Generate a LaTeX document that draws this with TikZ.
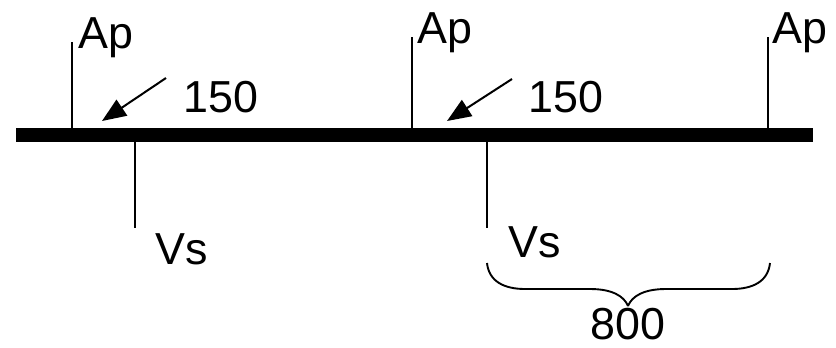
\documentclass[tikz,border=0pt]{standalone}
\usepackage{fontspec}
\setmainfont{Liberation Sans}
\usetikzlibrary{arrows.meta}
\begin{document}
\begin{tikzpicture}[x=1bp,y=-1bp,
  lbl/.style={anchor=base west,inner sep=0pt,font=\fontsize{45}{45}\selectfont},
  tick/.style={line width=1.7bp},
  rail/.style={line width=14bp},
  pointer/.style={line width=2bp,-{Triangle[length=24bp,width=19bp]}},
  brace/.style={line width=1.9bp}]
\useasboundingbox (0,0) rectangle (836,347);

% main bar
\coordinate (barL) at (16,135);
\coordinate (barR) at (813,135);
\draw[rail] (barL) -- (barR);

% upper ticks with Ap labels
\coordinate (ap1b) at (72,128);  \coordinate (ap1t) at (72,42);
\coordinate (ap2b) at (412,128); \coordinate (ap2t) at (412,37);
\coordinate (ap3b) at (768,128); \coordinate (ap3t) at (768,37);
\draw[tick] (ap1b) -- (ap1t);
\draw[tick] (ap2b) -- (ap2t);
\draw[tick] (ap3b) -- (ap3t);
\node[lbl] (ap1) at (78,48) {Ap};
\node[lbl] (ap2) at (417,43) {Ap};
\node[lbl] (ap3) at (772,43) {Ap};

% lower ticks with Vs labels
\coordinate (vs1t) at (135,142); \coordinate (vs1b) at (135,228);
\coordinate (vs2t) at (487,142); \coordinate (vs2b) at (487,228);
\draw[tick] (vs1t) -- (vs1b);
\draw[tick] (vs2t) -- (vs2b);
\node[lbl] (vs1) at (155,264) {Vs};
\node[lbl] (vs2) at (508,257) {Vs};

% 150 pointers
\node[lbl] (n1) at (183,112) {150};
\node[lbl] (n2) at (528,112) {150};
\coordinate (p1s) at (166,78);  \coordinate (p1e) at (102,121);
\coordinate (p2s) at (512,79);  \coordinate (p2e) at (447,121);
\draw[pointer] (p1s) -- (p1e);
\draw[pointer] (p2s) -- (p2e);

% brace spanning 800
\coordinate (brL) at (487,263);
\coordinate (brR) at (770,263);
\coordinate (brM) at (628,306);
\draw[brace] (brL) .. controls (489,282) and (505,289) .. (525,289)
  -- (590,289) .. controls (612,289) and (624,296) .. (brM);
\draw[brace] (brR) .. controls (768,282) and (752,289) .. (732,289)
  -- (666,289) .. controls (644,289) and (632,296) .. (brM);
\node[lbl] (n800) at (590,339) {800};
\end{tikzpicture}
\end{document}
